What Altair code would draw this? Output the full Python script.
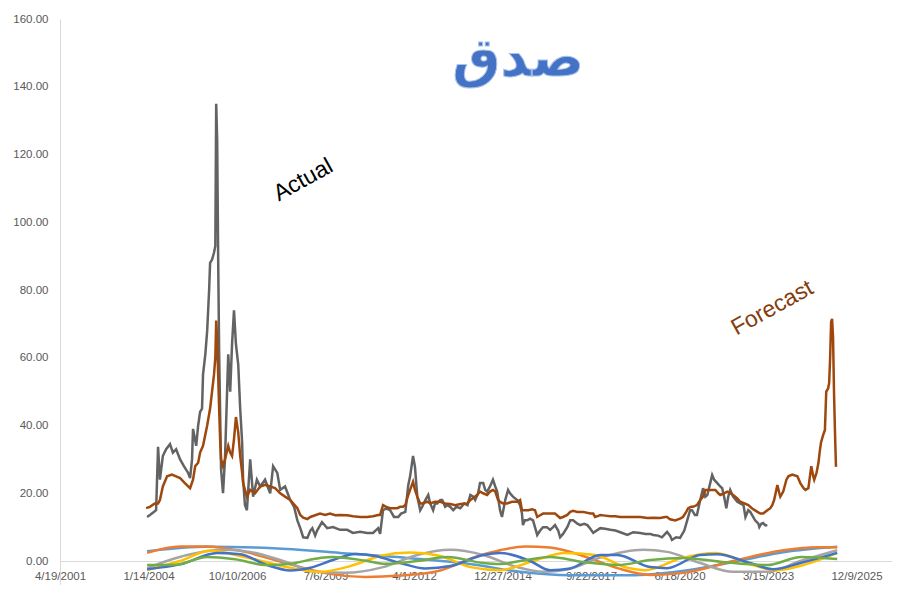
import altair as alt
import pandas as pd

# ---------------- data ----------------
# time as decimal years, values in the chart's units
actual_t = [2003.99, 2004.08, 2004.20, 2004.27, 2004.33, 2004.39, 2004.48, 2004.58, 2004.70, 2004.79,
            2004.89, 2005.01, 2005.13, 2005.26, 2005.32, 2005.38, 2005.41, 2005.51, 2005.57, 2005.63,
            2005.69, 2005.72, 2005.79, 2005.85, 2005.91, 2005.94, 2006.00, 2006.06, 2006.10, 2006.13,
            2006.16, 2006.19, 2006.22, 2006.28, 2006.34, 2006.40, 2006.43, 2006.50, 2006.56, 2006.62,
            2006.68, 2006.74, 2006.81, 2006.87, 2006.93, 2006.96, 2007.02, 2007.08, 2007.18, 2007.27,
            2007.39, 2007.49, 2007.64, 2007.80, 2007.89, 2008.02, 2008.11, 2008.26, 2008.42, 2008.54,
            2008.64, 2008.73, 2008.82, 2008.95, 2009.04, 2009.10, 2009.19, 2009.25, 2009.40, 2009.56,
            2009.74, 2009.96, 2010.18, 2010.36, 2010.58, 2010.80, 2010.98, 2011.14, 2011.20, 2011.29,
            2011.39, 2011.51, 2011.63, 2011.76, 2011.85, 2011.98, 2012.07, 2012.13, 2012.22, 2012.28,
            2012.35, 2012.44, 2012.50, 2012.60, 2012.69, 2012.75, 2012.84, 2012.90, 2012.97, 2013.06,
            2013.12, 2013.21, 2013.28, 2013.37, 2013.46, 2013.56, 2013.68, 2013.80, 2013.90, 2013.99,
            2014.08, 2014.14, 2014.23, 2014.29, 2014.39, 2014.45, 2014.51, 2014.60, 2014.69, 2014.76,
            2014.82, 2014.91, 2014.97, 2015.07, 2015.16, 2015.22, 2015.31, 2015.44, 2015.53, 2015.59,
            2015.62, 2015.68, 2015.75, 2015.84, 2015.93, 2015.99, 2016.06, 2016.15, 2016.24, 2016.36,
            2016.46, 2016.55, 2016.61, 2016.71, 2016.77, 2016.86, 2016.99, 2017.08, 2017.17, 2017.30,
            2017.39, 2017.51, 2017.61, 2017.70, 2017.79, 2018.01, 2018.16, 2018.32, 2018.48, 2018.63,
            2018.85, 2019.03, 2019.25, 2019.41, 2019.56, 2019.65, 2019.80, 2019.92, 2020.02, 2020.08,
            2020.17, 2020.23, 2020.36, 2020.48, 2020.61, 2020.70, 2020.79, 2020.85, 2020.94, 2021.00,
            2021.10, 2021.19, 2021.26, 2021.32, 2021.41, 2021.47, 2021.53, 2021.63, 2021.72, 2021.78,
            2021.84, 2021.91, 2021.97, 2022.03, 2022.12, 2022.25, 2022.34, 2022.44, 2022.50, 2022.59,
            2022.65, 2022.74, 2022.80, 2022.90, 2022.93, 2022.99, 2023.05, 2023.12, 2023.18]
actual_v = [13, 13.6, 14.5, 15, 33.7, 24, 31, 33, 34.5, 32,
            33, 30, 28, 26, 24.5, 30, 39, 34, 40, 44,
            45, 55, 61, 68, 80, 88, 89, 91, 93, 135,
            124, 90, 62, 27, 20, 30, 39, 61, 50, 64,
            74, 64, 58, 45, 35, 24, 16.5, 15, 30, 19,
            24, 22, 24, 20, 28, 26, 21, 22, 18, 16,
            12, 9.7, 7, 6.8, 9, 9.7, 7.5, 9, 11.5, 9.7,
            10, 9.2, 9.2, 8.3, 8.6, 8.3, 8.3, 9.7, 8, 15,
            15.5, 15, 13, 13, 14, 14.5, 22.4, 25, 31, 27.8,
            19, 15, 16, 18, 19.5, 17, 15, 17, 17, 18,
            18, 16, 16.5, 16, 15, 16, 15.6, 17, 16.5, 19.5,
            19, 18, 20, 23, 23, 21, 20.5, 22, 24, 22,
            20.5, 15, 13, 18, 21, 20, 19, 18, 16.5, 14,
            10.6, 12, 12, 12.5, 12, 10, 7.7, 9, 10, 10,
            9.2, 10, 10.6, 9, 7, 8, 10, 12, 12, 11,
            10.6, 11, 10.6, 9.5, 8.3, 9.7, 9.5, 9.2, 9, 8.5,
            7.7, 8.5, 8.3, 8, 8, 7.7, 7.5, 7, 8, 8.6,
            7.5, 6.2, 7, 6.8, 9, 12, 15, 15, 13.6, 13.6,
            18, 21.5, 19, 19.5, 23, 25.4, 24, 23, 22, 21.5,
            19, 15.6, 19, 21, 19, 17.5, 17, 16.5, 13, 15,
            14.5, 13, 12, 11, 10, 11, 11.2, 10.5, 10.6]

forecast_t = [2003.96, 2004.08, 2004.23, 2004.33, 2004.39, 2004.48, 2004.61, 2004.76, 2004.89, 2005.01,
              2005.16, 2005.32, 2005.41, 2005.48, 2005.57, 2005.63, 2005.72, 2005.85, 2005.94, 2006.00,
              2006.06, 2006.10, 2006.13, 2006.16, 2006.19, 2006.22, 2006.25, 2006.28, 2006.34, 2006.40,
              2006.50, 2006.56, 2006.62, 2006.68, 2006.74, 2006.81, 2006.87, 2006.93, 2006.96, 2007.02,
              2007.08, 2007.18, 2007.33, 2007.49, 2007.64, 2007.80, 2007.95, 2008.11, 2008.26, 2008.42,
              2008.51, 2008.64, 2008.73, 2008.82, 2008.95, 2009.04, 2009.19, 2009.34, 2009.50, 2009.65,
              2009.81, 2009.96, 2010.18, 2010.36, 2010.58, 2010.80, 2010.98, 2011.14, 2011.20, 2011.29,
              2011.39, 2011.51, 2011.60, 2011.73, 2011.82, 2011.91, 2011.98, 2012.07, 2012.13, 2012.22,
              2012.28, 2012.35, 2012.44, 2012.50, 2012.66, 2012.75, 2012.90, 2013.06, 2013.21, 2013.37,
              2013.52, 2013.68, 2013.90, 2013.99, 2014.08, 2014.20, 2014.29, 2014.39, 2014.51, 2014.60,
              2014.69, 2014.76, 2014.85, 2014.91, 2015.00, 2015.13, 2015.28, 2015.44, 2015.53, 2015.59,
              2015.68, 2015.78, 2015.90, 2015.99, 2016.06, 2016.15, 2016.24, 2016.36, 2016.46, 2016.61,
              2016.71, 2016.77, 2016.86, 2016.99, 2017.08, 2017.17, 2017.30, 2017.48, 2017.70, 2017.79,
              2017.85, 2017.95, 2018.01, 2018.16, 2018.32, 2018.48, 2018.63, 2018.85, 2019.03, 2019.25,
              2019.47, 2019.65, 2019.86, 2020.02, 2020.08, 2020.17, 2020.33, 2020.48, 2020.57, 2020.67,
              2020.73, 2020.82, 2020.88, 2021.00, 2021.10, 2021.19, 2021.26, 2021.32, 2021.41, 2021.50,
              2021.57, 2021.66, 2021.72, 2021.84, 2021.94, 2022.03, 2022.12, 2022.25, 2022.34, 2022.47,
              2022.59, 2022.71, 2022.87, 2022.96, 2023.05, 2023.18, 2023.27, 2023.33, 2023.39, 2023.49,
              2023.55, 2023.58, 2023.67, 2023.77, 2023.83, 2023.95, 2024.11, 2024.20, 2024.30, 2024.36,
              2024.45, 2024.54, 2024.60, 2024.63, 2024.70, 2024.76, 2024.81, 2024.84, 2024.90, 2024.96,
              2025.00, 2025.06, 2025.09, 2025.12, 2025.15, 2025.18, 2025.21, 2025.24, 2025.27, 2025.30]
forecast_v = [15.6, 16, 17, 17, 18, 22, 25, 25.5, 25, 24.5,
              23, 21.5, 24, 28, 29, 32, 34, 40, 45, 50,
              55, 60, 71, 65, 55, 45, 36, 30, 28, 30,
              34, 32, 31, 36, 42.5, 38, 31, 26, 23, 21,
              19, 21, 20, 22, 22.5, 22, 21.5, 20, 19, 18,
              17, 15.6, 13.6, 12.8, 12.4, 13, 13.5, 14, 13.6, 14,
              13.5, 13.6, 13.5, 13.2, 13, 13, 13.2, 13.6, 13.6, 16.5,
              16, 15.6, 15.6, 15.6, 16, 16, 16.5, 19.5, 21, 23.4,
              21, 19, 17, 17, 17.5, 17, 17.5, 17.5, 17, 16.8,
              16.5, 16.8, 17, 18, 18.6, 19.5, 20.5, 20, 19.5, 20.5,
              21, 20.5, 18, 17.5, 17, 17, 17.5, 17.5, 18, 15,
              15, 15, 15.3, 15, 13, 13.5, 14, 14, 14, 14,
              13.2, 12.7, 13, 13.6, 14.5, 14.8, 14.5, 14.5, 14, 14,
              13, 13.3, 13.6, 13.4, 13.2, 13.2, 13, 13, 13, 13,
              12.7, 12.8, 12.7, 13, 13, 12.3, 12, 12.5, 13, 14.5,
              15.6, 16, 16, 16.5, 18, 19, 21, 21, 21, 21,
              21, 20, 19.5, 20, 20.5, 20, 19.5, 18.5, 17.5, 17,
              16.5, 15.5, 14.5, 14, 14, 15, 15.6, 16.5, 18, 22.4,
              20, 19, 20.5, 24, 25, 25.5, 25, 23, 21.5, 21,
              21.5, 28, 25, 24, 26, 29, 33, 35, 37, 38.7,
              50, 51, 52.6, 60, 70.6, 71.5, 66, 49.6, 37.8, 27.8]

# the six smooth components near zero
c_lightblue_t = [2003.99, 2005.85, 2007.89, 2009.96, 2012.04, 2014.08, 2015.53, 2017.08, 2018.94, 2020.48, 2022.12, 2023.67, 2025.34]
c_lightblue_v = [2.9, 4.2, 3.8, 2.4, 0.9, -1.0, -3.2, -4.2, -4.2, -3.0, -0.3, 2.6, 4.2]

c_orange_t = [2003.99, 2005.01, 2005.85, 2006.87, 2008.42, 2009.65, 2010.74, 2011.82, 2013.06, 2014.08, 2014.91,
              2015.68, 2016.46, 2017.48, 2018.54, 2019.56, 2020.57, 2022.12, 2023.67, 2024.72, 2025.34]
c_orange_v = [2.4, 4.3, 4.3, 3.0, -1.0, -3.8, -4.7, -4.3, -2.8, 1.0, 3.2, 4.3, 4.0, 1.5, -2.1, -4.1, -3.5, 0, 3.2, 4.1, 4.1]

c_gray_t = [2003.99, 2005.23, 2006.40, 2007.18, 2008.20, 2009.25, 2010.12, 2011.29, 2012.35, 2013.37, 2014.39,
            2015.44, 2016.24, 2016.99, 2018.01, 2019.34, 2020.08, 2021.10, 2022.12, 2023.18, 2024.20, 2025.34]
c_gray_v = [-2.1, 1.8, 3.3, 2.7, 0, -3.2, -3.5, -1.8, 1.8, 3.3, 1.8, -1.8, -3.2, -2.5, 1.0, 3.3, 2.7, -0.6, -3.2, -3.2, 0, 3.2]

c_yellow_t = [2003.99, 2005.01, 2005.94, 2006.87, 2008.42, 2009.34, 2010.27, 2011.20, 2012.13, 2013.06, 2013.99, 2014.91,
              2015.93, 2016.92, 2017.85, 2018.85, 2019.41, 2020.57, 2021.57, 2022.74, 2023.42, 2024.36, 2025.34]
c_yellow_v = [-2.7, 0, 3.0, 1.5, -2, -3.2, -1.5, 1.5, 2.5, 1.5, -1.8, -2.7, 0, 2.4, 1.8, -2, -2.7, 1, 2.4, -1.2, -2.7, -1, 2.4]

c_blue_t = [2003.99, 2005.01, 2006.16, 2006.87, 2007.70, 2008.42, 2009.04, 2009.74, 2010.43, 2011.05, 2011.82, 2012.60,
            2013.37, 2014.39, 2014.91, 2015.84, 2016.46, 2017.08, 2018.01, 2018.54, 2019.56, 2020.08, 2021.10, 2021.63,
            2022.65, 2023.36, 2024.20, 2025.34]
c_blue_v = [-2.4, -1, 2.4, 2.0, -1.2, -2.8, -2.0, 0.3, 2.1, 1.5, -0.6, -2.2, -1.5, 1.8, 2.4, 0, -2.7, -2.2, 1.8, 1.8,
            -1.8, -2.1, 1.8, 2.0, -0.6, -2.4, -0.6, 2.4]

c_green_t = [2003.99, 2004.86, 2005.85, 2006.71, 2007.70, 2008.42, 2009.34, 2009.74, 2010.80, 2011.36, 2012.35, 2013.28,
             2014.39, 2014.91, 2015.53, 2016.46, 2017.48, 2018.54, 2019.56, 2020.57, 2021.72, 2023.18, 2024.23, 2025.34]
c_green_v = [-1.2, -1.1, 1.2, 0.5, -1.2, -0.8, 0.9, 1.2, 0, -0.8, 0, 1.2, -0.6, -0.9, 0, 1.2, -0.3, -1.2, 0.3, 0.9,
             -0.2, -1.2, 1.2, 0.6]

component_names = ["c1", "c2", "c3", "c4", "c5", "c6"]
component_colors = ["#5B9BD5", "#ED7D31", "#A5A5A5", "#FFC000", "#4472C4", "#70AD47"]

x_tick_dates = [(2001, 4, 19), (2004, 1, 14), (2006, 10, 10), (2009, 7, 6), (2012, 4, 1),
                (2014, 12, 27), (2017, 9, 22), (2020, 6, 18), (2023, 3, 15), (2025, 12, 9)]
y_ticks = [0, 20, 40, 60, 80, 100, 120, 140, 160]

title_text = "صدق"
actual_label = "Actual"
forecast_label = "Forecast"
# label anchor points (decimal year, value)
title_pos = (2015.47, 147.9)
actual_pos = (2008.82, 112.5)
forecast_pos = (2023.33, 74.7)


# ---------------- helpers ----------------
def to_dates(years):
    out = []
    for y in years:
        base = pd.Timestamp(year=int(y), month=1, day=1)
        out.append(base + pd.Timedelta(days=round((y - int(y)) * 365.25)))
    return out


actual_df = pd.DataFrame({"date": to_dates(actual_t), "value": actual_v})
forecast_df = pd.DataFrame({"date": to_dates(forecast_t), "value": forecast_v})

comp_frames = []
for name, t, v in zip(component_names,
                      [c_lightblue_t, c_orange_t, c_gray_t, c_yellow_t, c_blue_t, c_green_t],
                      [c_lightblue_v, c_orange_v, c_gray_v, c_yellow_v, c_blue_v, c_green_v]):
    comp_frames.append(pd.DataFrame({"date": to_dates(t), "value": v, "series": name}))
comp_df = pd.concat(comp_frames, ignore_index=True)

label_font = "Liberation Sans"
label_color = "#595959"

x_scale = alt.Scale(domain=[alt.DateTime(year=2001, month=4, date=19),
                            alt.DateTime(year=2027, month=1, date=14)], nice=False)
y_scale = alt.Scale(domain=[-7.08, 160], nice=False, zero=False)

x_axis = alt.Axis(values=[alt.DateTime(year=a, month=b, date=c) for a, b, c in x_tick_dates],
                  format="%-m/%-d/%Y", title=None, grid=False, ticks=False,
                  domainColor="#D9D9D9", domainWidth=1, offset=-24,
                  labelFont=label_font, labelFontSize=11.5, labelColor=label_color,
                  labelPadding=9, labelOverlap=False, labelFlush=False)
y_axis = alt.Axis(values=y_ticks, format=".2f", title=None, grid=False, ticks=False,
                  domainColor="#D9D9D9", domainWidth=1,
                  labelFont=label_font, labelFontSize=11.5, labelColor=label_color,
                  labelPadding=12)

X = alt.X("date:T", scale=x_scale, axis=x_axis)
Y = alt.Y("value:Q", scale=y_scale, axis=y_axis)

components = alt.Chart(comp_df).mark_line(strokeWidth=2.5, interpolate="monotone").encode(
    x=X, y=Y,
    color=alt.Color("series:N", scale=alt.Scale(domain=component_names, range=component_colors), legend=None),
)

actual_line = alt.Chart(actual_df).mark_line(strokeWidth=2.5, color="#636363").encode(
    x=alt.X("date:T", scale=x_scale), y=alt.Y("value:Q", scale=y_scale))
forecast_line = alt.Chart(forecast_df).mark_line(strokeWidth=2.5, color="#9E480E").encode(
    x=alt.X("date:T", scale=x_scale), y=alt.Y("value:Q", scale=y_scale))


def text_layer(pos, text, **kw):
    df = pd.DataFrame({"date": to_dates([pos[0]]), "value": [pos[1]], "t": [text]})
    return alt.Chart(df).mark_text(**kw).encode(
        x=alt.X("date:T", scale=x_scale), y=alt.Y("value:Q", scale=y_scale), text="t:N")


title_main = text_layer(title_pos, title_text, font="DejaVu Sans", fontSize=54, fontWeight="bold",
                        color="#4472C4", stroke="#A9C4EB", strokeWidth=1)
actual_txt = text_layer(actual_pos, actual_label, font="Liberation Sans", fontSize=23, color="#000000", angle=331)
forecast_txt = text_layer(forecast_pos, forecast_label, font="Liberation Sans", fontSize=23, color="#843C0C", angle=331)

chart = alt.layer(
    components, actual_line, forecast_line, title_main, actual_txt, forecast_txt
).properties(
    width=832, height=566,
    padding={"left": 52, "top": 11, "right": 0, "bottom": 0},
    autosize=alt.AutoSizeParams(type="none"),
    background="#FFFFFF",
).configure_view(stroke=None)

chart.save("out.html", embed_options={"renderer": "svg", "actions": False})
